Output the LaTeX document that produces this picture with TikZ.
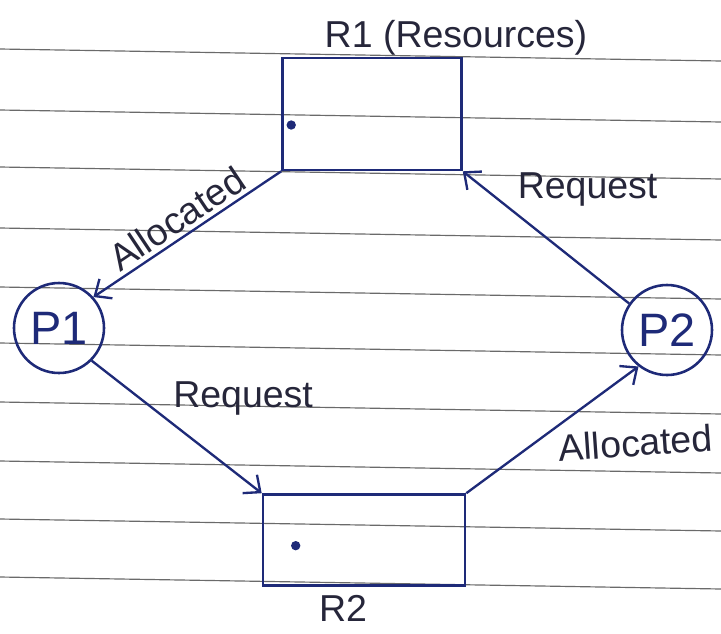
\documentclass[tikz,border=0pt]{standalone}
\usepackage{fontspec}
\setmainfont{Liberation Sans}
\usetikzlibrary{arrows.meta,positioning}
\definecolor{penink}{HTML}{1E2A78}
\definecolor{pentext}{HTML}{26263A}
\definecolor{paperrule}{HTML}{6A6A6A}

\begin{document}
\begin{tikzpicture}[
  x=0.03cm,
  y=-0.03cm,
  every node/.style={font=\fontsize{32}{36}\selectfont, pentext},
  resource/.style={draw=penink, line width=2.2pt, rectangle, inner sep=0pt},
  process/.style={draw=penink, line width=2.2pt, circle, inner sep=0pt,
                  minimum size=2.7cm, font=\fontsize{40}{44}\selectfont, text=penink},
  edge/.style={penink, line width=2pt, -{Straight Barb[length=4mm, width=7mm]}},
  ruling/.style={paperrule, line width=1pt},
  instance/.style={penink}
]
  % ---- page, same size as the photo ----
  \useasboundingbox (0,0) rectangle (721,633);

  % ---- ruled lines of the notebook, slightly tilted ----
  \foreach \ry in {49,110,167,228,287,343,402,461,519,577}
    \draw[ruling] (0,\ry) -- (721,\ry+12);

  % ---- resources ----
  \node[resource, minimum width=5.37cm, minimum height=3.36cm] (R1) at (372,114) {};
  \node[resource, minimum width=6.06cm, minimum height=2.73cm] (R2) at (364,540) {};
  \node (R1label) at (456,38) {R1 (Resources)};
  \node (R2label) at (343,608) {R2};

  % one instance in each resource
  \fill[instance] ([xshift=0.3cm, yshift=-0.33cm]R1.west) circle (4pt);
  \fill[instance] ([xshift=1.02cm, yshift=-0.17cm]R2.west) circle (4pt);

  % ---- processes ----
  \node[process] (P1) at (59,328) {P1};
  \node[process] (P2) at (667,330) {P2};

  % ---- allocation and request edges ----
  \draw[edge] (R1.south west) -- node[pos=0.5, sloped, above] {Allocated} (P1.42);
  \draw[edge] (P2.145) -- node[pos=0.7, anchor=south west] {Request} (R1.south east);
  \draw[edge] (P1.-45) -- node[pos=0.45, anchor=south west] {Request} (R2.north west);
  \draw[edge] (R2.north east) -- node[pos=0.5, anchor=north west, rotate=4] {Allocated} (P2.-128);
\end{tikzpicture}
\end{document}
